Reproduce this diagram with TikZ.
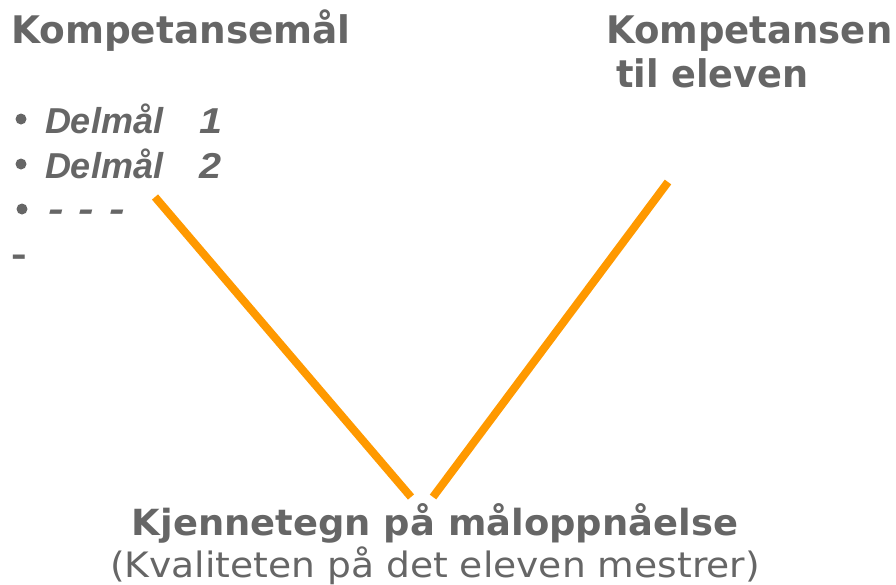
\documentclass[tikz,border=0pt]{standalone}
\usepackage{fontspec}
\setmainfont{DejaVu Sans}
\newfontfamily\arialfont{Liberation Sans}
\usepackage{graphicx}
\definecolor{txtgray}{HTML}{666666}
\definecolor{vorange}{HTML}{FF9900}
\begin{document}
\begin{tikzpicture}[x=1pt,y=-1pt,
  lbl/.style={inner sep=0pt, outer sep=0pt, text=txtgray, anchor=base west},
  ctr/.style={inner sep=0pt, outer sep=0pt, text=txtgray, anchor=base},
  head/.style={font=\fontsize{38}{40}\selectfont\bfseries},
  sub/.style={font=\arialfont\fontsize{36}{39}\selectfont\bfseries\itshape},
  dot/.style={circle, fill=txtgray, inner sep=0pt, minimum size=11pt},
  vline/.style={draw=vorange, line width=8pt}]
\useasboundingbox (0,0) rectangle (896,584);
% headings
\node[lbl, head] (goal) at (11,43) {\scalebox{0.985}[1]{Kompetansemål}};
\node[lbl, head] (comp1) at (606,43) {\scalebox{0.975}[1]{Kompetansen}};
\node[lbl, head] (comp2) at (616,87) {\scalebox{0.965}[1]{til eleven}};
% bullets
\node[dot] (b1) at (21,119) {};
\node[dot] (b2) at (21,164) {};
\node[dot] (b3) at (22,209) {};
\node[lbl, sub] (d1) at (45,133) {Delmål\hspace{36pt}\scalebox{1.15}[1]{1}};
\node[lbl, sub] (d2) at (45,178) {Delmål\hspace{36pt}\scalebox{1.1}[1]{2}};
\node[lbl, sub] (d3) at (48,221) {\scalebox{1.3}[1]{-}\hspace{15pt}\scalebox{1.3}[1]{-}\hspace{15pt}\scalebox{1.3}[1]{-}};
\node[lbl, font=\arialfont\fontsize{36}{39}\selectfont\bfseries] (d4) at (12,266) {\scalebox{1.3}[1]{-}};
% bottom text
\node[ctr, font=\fontsize{36}{38}\selectfont\bfseries] (kj) at (435,535) {\scalebox{1.025}[1]{Kjennetegn på måloppnåelse}};
\node[ctr, font=\fontsize{35}{37}\selectfont] (kv) at (435,577) {\scalebox{1.075}[1]{(Kvaliteten på det eleven mestrer)}};
% V lines
\coordinate (la) at (155,197);
\coordinate (lb) at (411,497);
\coordinate (ra) at (668,182);
\coordinate (rb) at (433,497);
\draw[vline] (la) -- (lb);
\draw[vline] (ra) -- (rb);
\end{tikzpicture}
\end{document}
